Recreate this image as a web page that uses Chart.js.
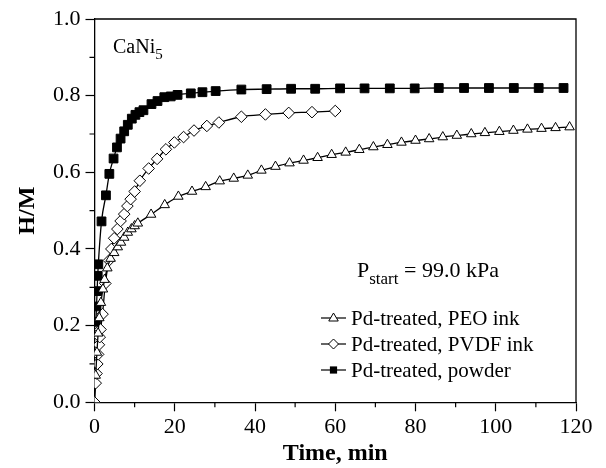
<!DOCTYPE html>
<html>
<head>
<meta charset="utf-8">
<script src="https://cdn.jsdelivr.net/npm/chart.js@4.4.1/dist/chart.umd.min.js"></script>
<style>
  html, body { margin: 0; padding: 0; background: #fff; }
</style>
</head>
<body>
<canvas id="chart" width="606" height="468"></canvas>
<script>
const peoTime = [0.3, 0.6, 0.9, 1.2, 1.6, 2.1, 2.5, 3.2, 4.0, 4.9, 5.8, 6.6, 7.4, 8.3, 9.2, 10.0, 10.8,
  14.1, 17.5, 20.9, 24.3, 27.7, 31.2, 34.7, 38.2, 41.6, 45.1, 48.6, 52.1, 55.6, 59.1, 62.6, 66.0,
  69.5, 73.0, 76.5, 80.0, 83.4, 86.8, 90.3, 93.9, 97.3, 100.9, 104.4, 107.9, 111.4, 114.9, 118.4];
const peoHM = [0.07, 0.13, 0.18, 0.22, 0.26, 0.295, 0.32, 0.35, 0.375, 0.39, 0.405, 0.417, 0.43, 0.443, 0.452, 0.46, 0.467,
  0.49, 0.515, 0.537, 0.55, 0.562, 0.577, 0.584, 0.592, 0.605, 0.615, 0.624, 0.631, 0.638, 0.646, 0.652, 0.659,
  0.666, 0.672, 0.678, 0.683, 0.687, 0.692, 0.696, 0.70, 0.703, 0.706, 0.709, 0.712, 0.714, 0.716, 0.718];

const pvdfTime = [0, 0.3, 0.5, 0.7, 0.9, 1.1, 1.3, 1.5, 2.0, 2.7, 3.6, 4.2, 4.9, 5.7, 6.5, 7.4, 8.2, 9.0,
  10.0, 11.3, 13.5, 15.6, 17.8, 19.9, 22.2, 24.8, 28.0, 31.0, 36.6, 42.6, 48.4, 54.2, 60.0];
const pvdfHM = [0, 0.05, 0.075, 0.10, 0.125, 0.15, 0.17, 0.19, 0.23, 0.31, 0.37, 0.40, 0.428, 0.452, 0.473, 0.491, 0.512, 0.53,
  0.55, 0.578, 0.61, 0.635, 0.66, 0.678, 0.692, 0.709, 0.721, 0.73, 0.745, 0.751, 0.755, 0.757, 0.76];

const powderTime = [0.35, 0.5, 0.65, 0.8, 0.95, 1.75, 2.85, 3.7, 4.75, 5.6, 6.5, 7.4, 8.3, 9.3, 10.2, 11.2, 12.2,
  14.2, 15.7, 17.4, 19.0, 20.7, 24.0, 26.9, 30.2, 36.6, 42.9, 49.0, 55.0, 61.2, 67.3, 73.6, 79.8,
  85.8, 92.1, 98.3, 104.5, 110.7, 116.9];
const powderHM = [0.21, 0.25, 0.29, 0.33, 0.36, 0.472, 0.54, 0.596, 0.636, 0.665, 0.688, 0.707, 0.724, 0.74, 0.75, 0.757, 0.762,
  0.778, 0.786, 0.796, 0.798, 0.802, 0.806, 0.809, 0.812, 0.816, 0.817, 0.818, 0.818, 0.819, 0.819, 0.819, 0.819,
  0.82, 0.82, 0.82, 0.82, 0.82, 0.82];

const seriesNames = ['Pd-treated, PEO ink', 'Pd-treated, PVDF ink', 'Pd-treated, powder'];
const xMinor = [10, 30, 50, 70, 90, 110];
const yMinor = [0.1, 0.3, 0.5, 0.7, 0.9];

const SERIF = "'Liberation Serif', 'Times New Roman', serif";

function zip(xs, ys) {
  return xs.map((x, i) => ({ x: x, y: ys[i] }));
}

function drawMarker(ctx, style, x, y, r) {
  ctx.beginPath();
  if (style === 'triangle') {
    ctx.moveTo(x, y - r);
    ctx.lineTo(x + r * 0.95, y + r * 0.6);
    ctx.lineTo(x - r * 0.95, y + r * 0.6);
    ctx.closePath();
    ctx.fillStyle = '#fff';
    ctx.fill();
    ctx.stroke();
  } else if (style === 'rectRot') {
    ctx.moveTo(x, y - r);
    ctx.lineTo(x + r, y);
    ctx.lineTo(x, y + r);
    ctx.lineTo(x - r, y);
    ctx.closePath();
    ctx.fillStyle = '#fff';
    ctx.fill();
    ctx.stroke();
  } else {
    ctx.rect(x - r * 0.8, y - r * 0.8, r * 1.6, r * 1.6);
    ctx.fillStyle = '#000';
    ctx.fill();
  }
}

// frame, minor ticks, labels and legend
const extras = {
  id: 'extras',
  afterDraw(chart) {
    const ctx = chart.ctx;
    const a = chart.chartArea;
    const xs = chart.scales.x;
    const ys = chart.scales.y;
    ctx.save();
    ctx.strokeStyle = '#000';
    ctx.lineWidth = 1.3;
    ctx.beginPath();
    ctx.moveTo(a.left, a.top);
    ctx.lineTo(a.right, a.top);
    ctx.lineTo(a.right, a.bottom);
    ctx.stroke();

    ctx.lineWidth = 1.2;
    ctx.beginPath();
    xMinor.forEach(v => {
      const p = xs.getPixelForValue(v);
      ctx.moveTo(p, a.bottom);
      ctx.lineTo(p, a.bottom + 5);
    });
    yMinor.forEach(v => {
      const p = ys.getPixelForValue(v);
      ctx.moveTo(a.left, p);
      ctx.lineTo(a.left - 5, p);
    });
    ctx.stroke();

    ctx.fillStyle = '#000';
    ctx.textBaseline = 'alphabetic';
    ctx.textAlign = 'left';
    ctx.font = '20px ' + SERIF;
    ctx.fillText('CaNi', 113, 53);
    let w = ctx.measureText('CaNi').width;
    ctx.font = '15px ' + SERIF;
    ctx.fillText('5', 113 + w, 59);

    ctx.font = '22px ' + SERIF;
    ctx.fillText('P', 357, 277);
    w = ctx.measureText('P').width;
    ctx.font = '17px ' + SERIF;
    ctx.fillText('start', 357 + w, 284);
    const w2 = ctx.measureText('start').width;
    ctx.font = '22px ' + SERIF;
    ctx.fillText(' = 99.0 kPa', 357 + w + w2, 277);

    const styles = ['triangle', 'rectRot', 'rect'];
    const sizes = [5, 5, 4.5];
    ctx.textBaseline = 'middle';
    seriesNames.forEach((name, i) => {
      const y = 318 + i * 26;
      ctx.strokeStyle = '#000';
      ctx.lineWidth = 1.2;
      ctx.beginPath();
      ctx.moveTo(321, y);
      ctx.lineTo(346, y);
      ctx.stroke();
      ctx.lineWidth = 1;
      drawMarker(ctx, styles[i], 333.5, y, sizes[i]);
      ctx.fillStyle = '#000';
      ctx.font = '21px ' + SERIF;
      ctx.fillText(name, 351, y + 1);
    });
    ctx.restore();
  }
};

const common = {
  borderColor: '#000',
  borderWidth: 1.3,
  pointBorderColor: '#000',
  pointBorderWidth: 1,
  cubicInterpolationMode: 'monotone',
  fill: false,
};

new Chart(document.getElementById('chart'), {
  type: 'line',
  data: {
    datasets: [
      Object.assign({ label: seriesNames[0], data: zip(peoTime, peoHM), pointStyle: 'triangle', pointRadius: 5.5, pointBackgroundColor: '#fff' }, common),
      Object.assign({ label: seriesNames[1], data: zip(pvdfTime, pvdfHM), pointStyle: 'rectRot', pointRadius: 5.8, pointBackgroundColor: '#fff' }, common),
      Object.assign({ label: seriesNames[2], data: zip(powderTime, powderHM), pointStyle: 'rect', pointRadius: 6.2, pointBackgroundColor: '#000' }, common),
    ],
  },
  options: {
    responsive: false,
    animation: false,
    layout: { padding: { left: 9, right: 30, top: 19, bottom: 0 } },
    plugins: { legend: { display: false }, tooltip: { enabled: false } },
    scales: {
      x: {
        type: 'linear',
        min: 0,
        max: 120,
        afterFit(scale) { scale.height = 65.7; },
        ticks: { stepSize: 20, color: '#000', padding: 3, maxRotation: 0, font: { family: SERIF, size: 22 } },
        grid: { drawOnChartArea: false, drawTicks: true, tickLength: 9, tickColor: '#000', tickWidth: 1.2 },
        border: { display: true, color: '#000', width: 1.3 },
        title: { display: true, text: 'Time, min', color: '#000', padding: { top: 0, bottom: 0 }, font: { family: SERIF, size: 24, weight: 'bold' } },
      },
      y: {
        type: 'linear',
        min: 0,
        max: 1,
        afterFit(scale) { scale.width = 85.5; },
        ticks: { stepSize: 0.2, color: '#000', padding: 5, font: { family: SERIF, size: 22 }, callback: v => v.toFixed(1) },
        grid: { drawOnChartArea: false, drawTicks: true, tickLength: 9, tickColor: '#000', tickWidth: 1.2 },
        border: { display: true, color: '#000', width: 1.3 },
        title: { display: true, text: 'H/M', color: '#000', padding: { top: 4, bottom: 4 }, font: { family: SERIF, size: 24, weight: 'bold' } },
      },
    },
  },
  plugins: [extras],
});
</script>
</body>
</html>
